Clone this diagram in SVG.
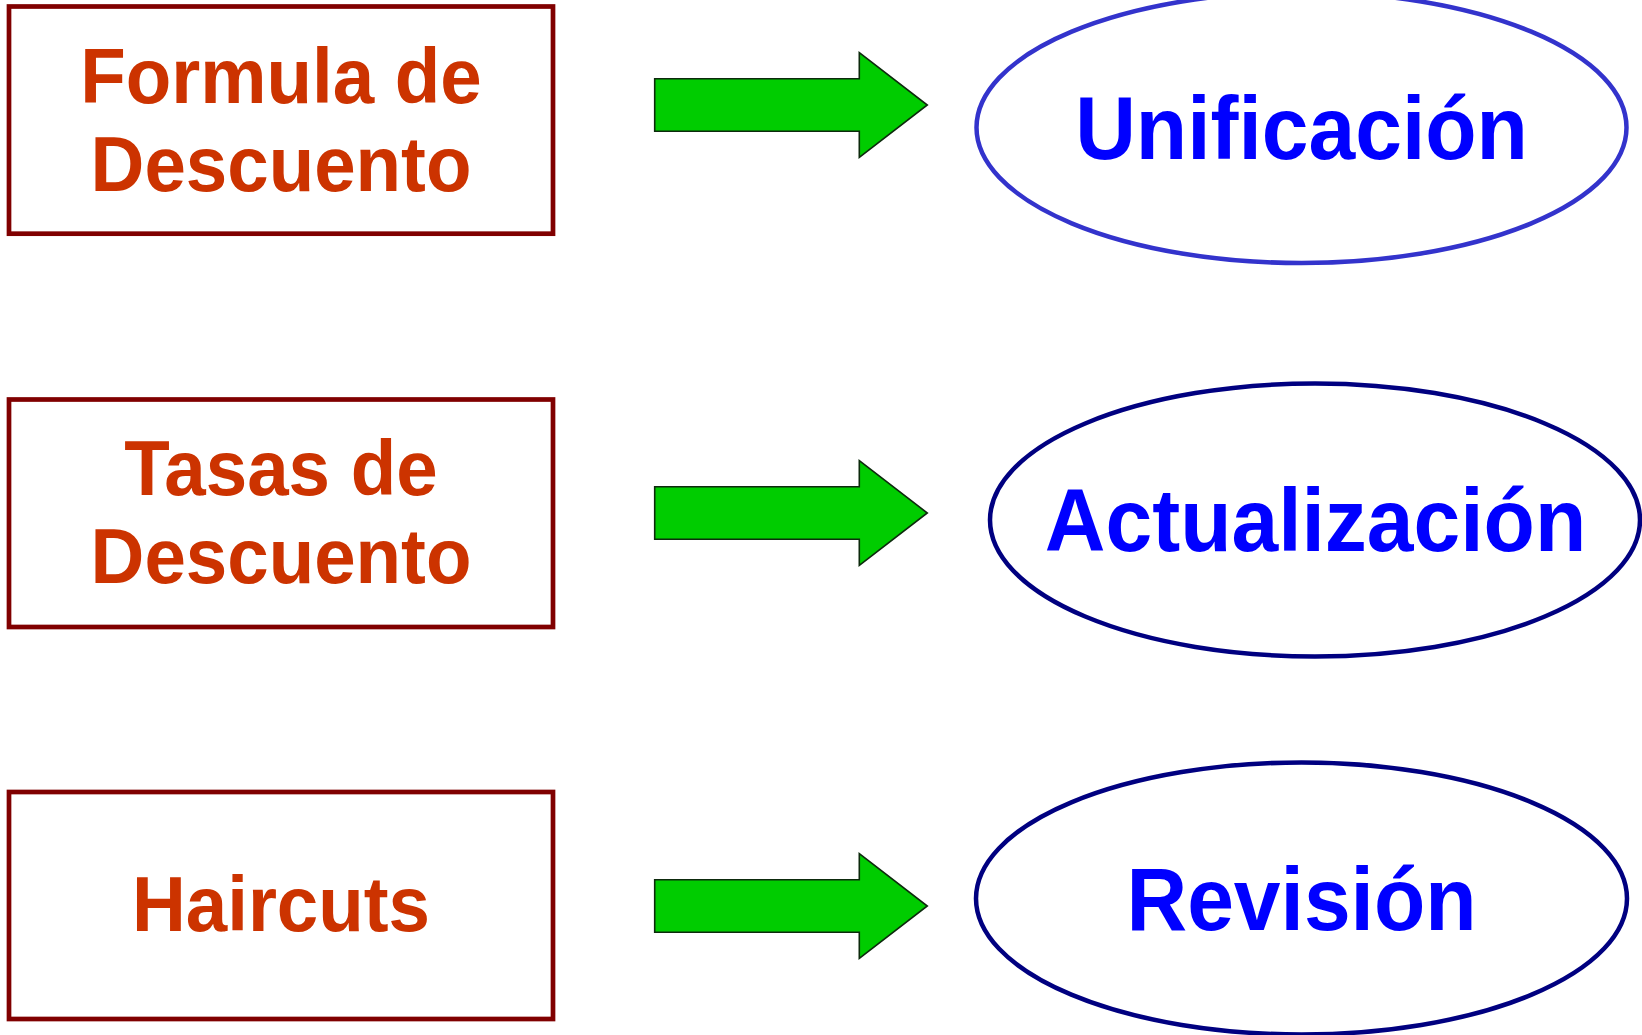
<svg xmlns="http://www.w3.org/2000/svg" width="1642" height="1035" viewBox="0 0 1642 1035">
<style>
.box{fill:#fff;stroke:#800000;stroke-width:4.7}
.lt{font-family:"Liberation Sans",Arial,sans-serif;font-weight:bold;font-size:74.5px;fill:#CC3300;text-anchor:middle}
.el{fill:#fff;stroke-width:4.5}
.rt{font-family:"Liberation Sans",Arial,sans-serif;font-weight:bold;font-size:84px;fill:#0000FF;text-anchor:middle}
.arr{fill:#00CC00;stroke:#0d2a0d;stroke-width:1.6;stroke-linejoin:miter}
</style>
<defs>
<path id="arrow" d="M654.7,-26.3 H859.3 V-52.3 L927.3,0 L859.3,52.3 V26.3 H654.7 Z"/>
</defs>
<rect width="1642" height="1035" fill="#fff"/>
<g id="box-formula">
<rect class="box" x="9" y="6.5" width="544" height="227.2"/>
<text class="lt" transform="translate(281,102.5) scale(1,1.05)">Formula de</text>
<text class="lt" transform="translate(281,190.5) scale(1,1.05)">Descuento</text>
</g>
<g id="box-tasas">
<rect class="box" x="9" y="399.5" width="544" height="227.5"/>
<text class="lt" transform="translate(281,494.5) scale(1,1.05)">Tasas de</text>
<text class="lt" transform="translate(281,582.5) scale(1,1.05)">Descuento</text>
</g>
<g id="box-haircuts">
<rect class="box" x="9" y="792" width="544" height="227"/>
<text class="lt" transform="translate(281,931) scale(1,1.05)">Haircuts</text>
</g>
<g id="connectors">
<use href="#arrow" class="arr" transform="translate(0,105)"/>
<use href="#arrow" class="arr" transform="translate(0,513)"/>
<use href="#arrow" class="arr" transform="translate(0,906)"/>
</g>
<g id="ellipse-unificacion">
<ellipse class="el" stroke="#3333CC" cx="1301.5" cy="127.5" rx="325" ry="135.5"/>
<text class="rt" transform="translate(1301.5,158.5) scale(1,1.05)">Unificación</text>
</g>
<g id="ellipse-actualizacion">
<ellipse class="el" stroke="#000080" cx="1315" cy="520" rx="325" ry="136.5"/>
<text class="rt" transform="translate(1315.5,551) scale(1,1.05)">Actualización</text>
</g>
<g id="ellipse-revision">
<ellipse class="el" stroke="#000080" cx="1301.5" cy="898.5" rx="325.5" ry="136"/>
<text class="rt" transform="translate(1301.5,930) scale(1,1.05)">Revisión</text>
</g>
</svg>
